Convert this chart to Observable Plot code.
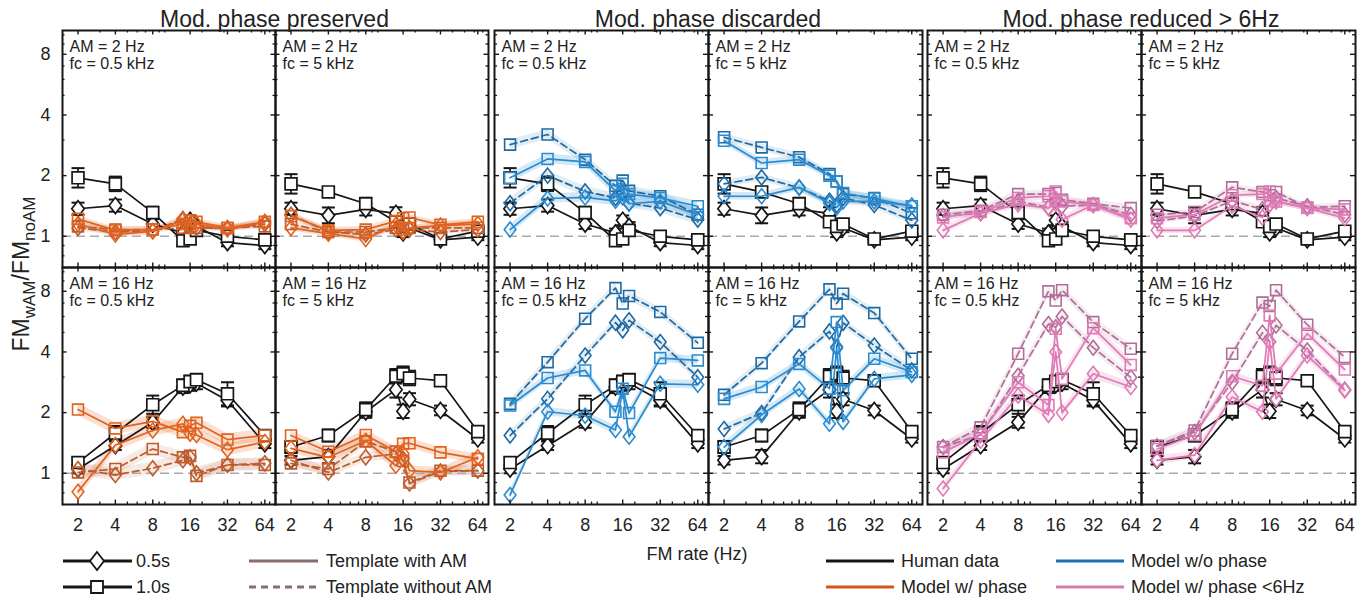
<!DOCTYPE html>
<html>
<head>
<meta charset="utf-8">
<script src="https://cdn.jsdelivr.net/npm/d3@7"></script>
<script src="https://cdn.jsdelivr.net/npm/@observablehq/plot@0.6"></script>
<style>
  body { margin: 0; background: #fff; }
  #chart { position: relative; width: 1362px; height: 598px; font-family: "Liberation Sans", Arial, Helvetica, sans-serif; }
  #chart > svg { position: absolute; top: 0; }
</style>
</head>
<body>
<div id="chart"></div>
<script>
// ---------------------------------------------------------------------------
// Data: FM detection threshold ratio (FM with AM / FM without AM)
// Condition order: [AM 2 Hz, fc 0.5 kHz], [AM 2 Hz, fc 5 kHz], [AM 16 Hz, fc 0.5 kHz], [AM 16 Hz, fc 5 kHz]
// ---------------------------------------------------------------------------
const fmRates = [2, 4, 8, 14, 16, 18, 32, 64];
const conditionAM = ["2", "2", "16", "16"];
const conditionFc = ["0.5", "5", "0.5", "5"];
const amRates = ["2", "16"];
const carriers = ["0.5", "5"];

const groupTitles = ["Mod. phase preserved", "Mod. phase discarded", "Mod. phase reduced > 6Hz"];
const xTicks = [2, 4, 8, 16, 32, 64];
const xMinorTicks = [3, 5, 6, 7, 9, 10, 20, 30, 40, 50, 60, 70];
const yTicks = [1, 2, 4, 8];
const yMinorTicks = [0.7, 0.8, 0.9, 3, 5, 6, 7, 9, 10];

// Human data, 0.5 s and 1.0 s stimuli (mean and error half-width in octaves)
const humanShort = [
  [1.37, 1.42, 1.15, 1.04, 1.20, 1.12, 0.93, 0.90],
  [1.37, 1.27, 1.36, 1.30, 1.04, 1.10, 0.96, 0.99],
  [1.05, 1.37, 1.79, 2.68, 2.75, 2.80, 2.30, 1.40],
  [1.16, 1.21, 2.02, 2.60, 2.03, 2.33, 2.05, 1.48]
];
const humanShortErr = [
  [0.10, 0.10, 0.08, 0.07, 0.08, 0.07, 0.06, 0.06],
  [0.10, 0.13, 0.10, 0.10, 0.07, 0.07, 0.05, 0.05],
  [0.07, 0.07, 0.09, 0.10, 0.10, 0.10, 0.10, 0.07],
  [0.07, 0.11, 0.10, 0.13, 0.11, 0.10, 0.08, 0.06]
];
const humanLong = [
  [1.95, 1.82, 1.31, 0.95, 0.97, 1.07, 1.00, 0.96],
  [1.82, 1.66, 1.45, 1.18, 1.12, 1.15, 0.97, 1.06],
  [1.13, 1.58, 2.19, 2.73, 2.85, 2.91, 2.48, 1.54],
  [1.35, 1.54, 2.07, 3.03, 3.12, 2.97, 2.88, 1.61]
];
const humanLongErr = [
  [0.16, 0.12, 0.10, 0.08, 0.08, 0.08, 0.07, 0.05],
  [0.16, 0.08, 0.10, 0.08, 0.08, 0.08, 0.05, 0.05],
  [0.08, 0.12, 0.15, 0.10, 0.10, 0.10, 0.19, 0.07],
  [0.10, 0.10, 0.12, 0.12, 0.12, 0.12, 0.05, 0.07]
];

// Model with modulation phase preserved
const phaseWithShort = [
  [1.15, 1.02, 1.06, 1.20, 1.12, 1.15, 1.08, 1.18],
  [1.10, 1.03, 0.97, 1.14, 1.06, 1.10, 1.13, 1.15],
  [0.81, 1.38, 1.63, 1.76, 1.57, 1.55, 1.31, 1.43],
  [1.33, 1.20, 1.45, 1.09, 1.25, 1.03, 1.01, 1.20]
];
const phaseWithLong = [
  [1.22, 1.07, 1.08, 1.15, 1.20, 1.18, 1.10, 1.18],
  [1.26, 1.07, 1.08, 1.19, 1.23, 1.24, 1.14, 1.18],
  [2.07, 1.67, 1.81, 1.60, 1.72, 1.78, 1.47, 1.54],
  [1.54, 1.28, 1.55, 1.28, 1.40, 1.41, 1.27, 1.18]
];
const phaseWithoutShort = [
  [1.10, 1.05, 1.06, 1.22, 1.15, 1.10, 1.10, 1.15],
  [1.28, 1.05, 1.02, 1.08, 1.05, 1.08, 1.05, 1.08],
  [1.05, 0.98, 1.06, 1.16, 1.20, 1.00, 1.10, 1.12],
  [1.16, 1.01, 1.20, 1.25, 1.18, 0.89, 1.02, 1.03]
];
const phaseWithoutLong = [
  [1.12, 1.08, 1.08, 1.10, 1.12, 1.10, 1.10, 1.12],
  [1.15, 1.05, 1.05, 1.10, 1.08, 1.10, 1.10, 1.10],
  [1.01, 1.05, 1.32, 1.20, 1.22, 0.97, 1.10, 1.10],
  [1.12, 1.05, 1.44, 1.28, 1.15, 0.90, 1.03, 1.03]
];
const phaseBand = [0.05, 0.05, 0.10, 0.08];

// Model with modulation phase discarded
const noPhaseWithShort = [
  [1.08, 1.54, 1.56, 1.50, 1.56, 1.45, 1.49, 1.28],
  [1.58, 1.58, 1.75, 1.46, 1.39, 1.49, 1.49, 1.42],
  [0.78, 2.02, 1.93, 1.64, 2.58, 1.52, 2.78, 2.75],
  [1.35, 1.95, 2.62, 1.76, 4.18, 1.80, 2.94, 3.08]
];
const noPhaseWithLong = [
  [1.95, 2.42, 2.34, 1.68, 1.82, 1.62, 1.55, 1.41],
  [2.98, 2.31, 2.40, 2.00, 1.87, 1.64, 1.54, 1.41],
  [2.17, 2.97, 3.24, 2.02, 2.63, 1.99, 3.73, 3.63],
  [2.34, 2.68, 3.49, 2.63, 5.63, 2.58, 3.70, 3.18]
];
const noPhaseWithoutShort = [
  [1.46, 2.00, 1.67, 1.55, 1.64, 1.46, 1.38, 1.21],
  [1.82, 1.96, 1.74, 1.50, 1.43, 1.55, 1.43, 1.20],
  [1.54, 2.34, 3.84, 5.59, 5.12, 5.74, 4.48, 3.00],
  [1.66, 1.99, 3.77, 5.06, 4.23, 5.58, 4.31, 3.24]
];
const noPhaseWithoutLong = [
  [2.85, 3.20, 2.40, 1.78, 1.89, 1.68, 1.58, 1.28],
  [3.10, 2.76, 2.47, 2.04, 1.87, 1.62, 1.55, 1.30],
  [2.21, 3.56, 5.85, 8.30, 6.96, 7.58, 6.32, 4.44],
  [2.45, 3.52, 5.67, 8.18, 6.96, 7.78, 6.24, 3.70]
];
const noPhaseBand = [0.08, 0.06, 0.07, 0.07];

// Model with modulation phase reduced above 6 Hz
const lowPhaseWithShort = [
  [1.07, 1.30, 1.44, 1.38, 1.45, 1.21, 1.43, 1.21],
  [1.07, 1.07, 1.42, 1.24, 1.44, 1.49, 1.38, 1.23],
  [0.84, 1.45, 2.43, 1.95, 4.00, 2.00, 3.12, 2.68],
  [1.16, 1.23, 2.39, 2.02, 4.48, 2.34, 3.84, 2.58]
];
const lowPhaseWithLong = [
  [1.24, 1.32, 1.55, 1.58, 1.67, 1.49, 1.43, 1.23],
  [1.23, 1.28, 1.60, 1.62, 1.67, 1.49, 1.38, 1.36],
  [1.27, 1.57, 2.83, 2.18, 5.21, 2.94, 5.25, 3.45],
  [1.32, 1.55, 3.03, 2.72, 6.07, 3.12, 4.93, 3.27]
];
const lowPhaseWithoutShort = [
  [1.26, 1.30, 1.49, 1.39, 1.50, 1.41, 1.43, 1.28],
  [1.19, 1.26, 1.50, 1.36, 1.44, 1.55, 1.41, 1.28],
  [1.35, 1.55, 3.05, 5.50, 5.30, 6.00, 4.20, 2.99],
  [1.36, 1.60, 2.83, 4.98, 4.50, 5.42, 4.07, 2.60]
];
const lowPhaseWithoutLong = [
  [1.28, 1.34, 1.62, 1.62, 1.64, 1.52, 1.45, 1.38],
  [1.28, 1.32, 1.75, 1.66, 1.60, 1.66, 1.39, 1.41],
  [1.35, 1.69, 3.92, 8.00, 7.20, 8.10, 5.63, 4.15],
  [1.37, 1.63, 3.92, 7.03, 6.76, 8.10, 5.46, 3.77]
];
const lowPhaseBand = [0.06, 0.05, 0.08, 0.07];

// ---------------------------------------------------------------------------
// Tidy rows
// ---------------------------------------------------------------------------
function toRows(byCondition, spread, duration, template) {
  const rows = [];
  byCondition.forEach((values, ci) => {
    const s = spread[ci];
    values.forEach((v, i) => {
      const w = Array.isArray(s) ? s[i] : s;
      rows.push({
        am: conditionAM[ci], fc: conditionFc[ci], rate: fmRates[i], value: v,
        lo: v * 2 ** -w, hi: v * 2 ** w, duration, template, key: `${template}-${duration}`
      });
    });
  });
  return rows;
}

const humanRows = [
  ...toRows(humanShort, humanShortErr, "0.5s", "human"),
  ...toRows(humanLong, humanLongErr, "1.0s", "human")
];

function modelRows(withShort, withLong, withoutShort, withoutLong, band) {
  return [
    ...toRows(withShort, band, "0.5s", "with"),
    ...toRows(withLong, band, "1.0s", "with"),
    ...toRows(withoutShort, band, "0.5s", "without"),
    ...toRows(withoutLong, band, "1.0s", "without")
  ];
}

const models = [
  modelRows(phaseWithShort, phaseWithLong, phaseWithoutShort, phaseWithoutLong, phaseBand),
  modelRows(noPhaseWithShort, noPhaseWithLong, noPhaseWithoutShort, noPhaseWithoutLong, noPhaseBand),
  modelRows(lowPhaseWithShort, lowPhaseWithLong, lowPhaseWithoutShort, lowPhaseWithoutLong, lowPhaseBand)
];

const panelLabels = [];
for (const am of amRates) for (const fc of carriers) panelLabels.push({am, fc, text: `AM = ${am} Hz\nfc = ${fc} kHz`});

// Tick labels: x below the bottom row of panels, y left of the first column
const xTickLabels = carriers.flatMap(fc => xTicks.map(v => ({fc, am: amRates[1], v})));
const yTickLabels = amRates.flatMap(am => yTicks.map(v => ({fc: carriers[0], am, v})));

// ---------------------------------------------------------------------------
// Styling
// ---------------------------------------------------------------------------
const palettes = [
  {with: "#e2621f", without: "#bd5b2c"},
  {with: "#2a8bd0", without: "#1f69a3"},
  {with: "#e07ab6", without: "#b06e97"}
];

// Marker shapes (custom d3 symbols)
const diamondSymbol = {draw(ctx, size) {
  const r = Math.sqrt(size / Math.PI), w = r * 0.78;
  ctx.moveTo(0, -r); ctx.lineTo(w, 0); ctx.lineTo(0, r); ctx.lineTo(-w, 0); ctx.closePath();
}};
const squareSymbol = {draw(ctx, size) {
  const r = Math.sqrt(size / Math.PI) * 0.78;
  ctx.moveTo(-r, -r); ctx.lineTo(r, -r); ctx.lineTo(r, r); ctx.lineTo(-r, r); ctx.closePath();
}};
const capSymbol = {draw(ctx, size) {
  const r = Math.sqrt(size / Math.PI);
  ctx.moveTo(-r, 0); ctx.lineTo(r, 0);
}};

const layout = [
  {left: 0, marginLeft: 61, frameWidth: 427, showY: true},
  {left: 491, marginLeft: 3, frameWidth: 428, showY: false},
  {left: 924, marginLeft: 3, frameWidth: 428, showY: false}
];
const marginTop = 29, frameHeight = 475, marginBottom = 40, marginRight = 3;
const ink = "#161616";

function groupPlot(gi) {
  const {marginLeft, frameWidth, showY} = layout[gi];
  const rows = models[gi];
  const pal = palettes[gi];
  const fw = frameWidth / 2, fh = frameHeight / 2;
  const facet = {fx: "fc", fy: "am"};
  const sel = (t, d) => rows.filter(r => r.template === t && (d == null || r.duration === d));
  const human = humanRows;

  const marks = [
    // variability bands of the model
    Plot.areaY(sel("with"), {...facet, x: "rate", y1: "lo", y2: "hi", z: "key", fill: pal.with, fillOpacity: 0.2, clip: true}),
    Plot.areaY(sel("without"), {...facet, x: "rate", y1: "lo", y2: "hi", z: "key", fill: pal.without, fillOpacity: 0.13, clip: true}),
    // no-effect reference
    Plot.ruleY([1], {stroke: "#a9a9a9", strokeWidth: 1.5, strokeDasharray: "9,5"}),
    // human data with error bars
    Plot.ruleX(human, {...facet, x: "rate", y1: "lo", y2: "hi", stroke: ink, strokeWidth: 1.7}),
    Plot.dot(human, {...facet, x: "rate", y: "lo", symbol: capSymbol, r: 6.5, stroke: ink, strokeWidth: 2}),
    Plot.dot(human, {...facet, x: "rate", y: "hi", symbol: capSymbol, r: 6.5, stroke: ink, strokeWidth: 2}),
    Plot.line(human, {...facet, x: "rate", y: "value", z: "duration", stroke: ink, strokeWidth: 1.7}),
    Plot.dot(human.filter(r => r.duration === "0.5s"), {...facet, x: "rate", y: "value", symbol: diamondSymbol, r: 8, fill: "white", stroke: ink, strokeWidth: 1.7}),
    Plot.dot(human.filter(r => r.duration === "1.0s"), {...facet, x: "rate", y: "value", symbol: squareSymbol, r: 7.6, fill: "white", stroke: ink, strokeWidth: 1.7}),
    // model: template without AM (dashed), template with AM (solid)
    Plot.line(sel("without"), {...facet, x: "rate", y: "value", z: "key", stroke: pal.without, strokeWidth: 1.7, strokeDasharray: "7,4"}),
    Plot.dot(sel("without", "0.5s"), {...facet, x: "rate", y: "value", symbol: diamondSymbol, r: 7.5, fill: "none", stroke: pal.without, strokeWidth: 1.6}),
    Plot.dot(sel("without", "1.0s"), {...facet, x: "rate", y: "value", symbol: squareSymbol, r: 7, fill: "none", stroke: pal.without, strokeWidth: 1.6}),
    Plot.line(sel("with"), {...facet, x: "rate", y: "value", z: "key", stroke: pal.with, strokeWidth: 1.7}),
    Plot.dot(sel("with", "0.5s"), {...facet, x: "rate", y: "value", symbol: diamondSymbol, r: 7.5, fill: "none", stroke: pal.with, strokeWidth: 1.6}),
    Plot.dot(sel("with", "1.0s"), {...facet, x: "rate", y: "value", symbol: squareSymbol, r: 7, fill: "none", stroke: pal.with, strokeWidth: 1.6}),
    // inward ticks on all four sides of each panel
    Plot.tickX(xMinorTicks, {x: d => d, insetTop: fh - 3, stroke: ink, strokeWidth: 1.3}),
    Plot.tickX(xMinorTicks, {x: d => d, insetBottom: fh - 3, stroke: ink, strokeWidth: 1.3}),
    Plot.tickX(xTicks, {x: d => d, insetTop: fh - 5, stroke: ink, strokeWidth: 1.4}),
    Plot.tickX(xTicks, {x: d => d, insetBottom: fh - 5, stroke: ink, strokeWidth: 1.4}),
    Plot.tickY(yMinorTicks, {y: d => d, insetRight: fw - 3, stroke: ink, strokeWidth: 1.3}),
    Plot.tickY(yMinorTicks, {y: d => d, insetLeft: fw - 3, stroke: ink, strokeWidth: 1.3}),
    Plot.tickY(yTicks, {y: d => d, insetRight: fw - 5, stroke: ink, strokeWidth: 1.4}),
    Plot.tickY(yTicks, {y: d => d, insetLeft: fw - 5, stroke: ink, strokeWidth: 1.4}),
    Plot.frame({stroke: ink, strokeWidth: 2}),
    Plot.text(panelLabels, {...facet, text: "text", frameAnchor: "top-left", textAnchor: "start", lineAnchor: "top",
      dx: 7, dy: 9, fontSize: 16, lineHeight: 1.07, fill: "#222"}),
    // tick labels
    Plot.text(xTickLabels, {...facet, x: "v", text: d => `${d.v}`, frameAnchor: "bottom", lineAnchor: "top", dy: 14, fontSize: 18, fill: "#222"})
  ];
  if (showY) {
    marks.push(Plot.text(yTickLabels, {...facet, y: "v", text: d => `${d.v}`, frameAnchor: "left", textAnchor: "end", dx: -12, fontSize: 18, fill: "#222"}));
  }

  const svg = Plot.plot({
    width: marginLeft + frameWidth + marginRight,
    height: marginTop + frameHeight + marginBottom,
    marginTop, marginBottom, marginLeft, marginRight,
    x: {type: "log", domain: [1.5, 78], axis: null},
    y: {type: "log", domain: [0.7, 10.5], axis: null},
    fx: {domain: carriers, padding: 0, axis: null},
    fy: {domain: amRates, padding: 0, axis: null},
    style: {fontFamily: '"Liberation Sans", Arial, Helvetica, sans-serif', fontSize: "18px", color: "#222", background: "transparent", overflow: "visible"},
    marks
  });
  svg.style.left = `${layout[gi].left}px`;
  return svg;
}

const chart = document.getElementById("chart");
for (let gi = 0; gi < 3; gi++) chart.appendChild(groupPlot(gi));

// ---------------------------------------------------------------------------
// Titles, axis labels and legend
// ---------------------------------------------------------------------------
const legendDurations = [
  {label: "0.5s", shape: "diamond"},
  {label: "1.0s", shape: "square"}
];
const legendTemplates = [
  {label: "Template with AM", dash: null},
  {label: "Template without AM", dash: "7,5"}
];
const legendSources = [
  {label: "Human data", color: "#161616"},
  {label: "Model w/ phase", color: "#d4561c"},
  {label: "Model w/o phase", color: "#1f6fb2"},
  {label: "Model w/ phase <6Hz", color: "#d47db3"}
];

const over = d3.select(chart).append("svg")
  .attr("width", 1362).attr("height", 598)
  .style("position", "absolute").style("left", "0px").style("top", "0px")
  .style("font-family", '"Liberation Sans", Arial, Helvetica, sans-serif')
  .style("pointer-events", "none");

groupTitles.forEach((t, i) => {
  const cx = layout[i].left + layout[i].marginLeft + layout[i].frameWidth / 2;
  over.append("text").attr("x", cx).attr("y", 27).attr("text-anchor", "middle")
    .attr("font-size", 23).attr("fill", "#222").text(t);
});

// y label with subscripts
const yl = over.append("text").attr("transform", "translate(29,274) rotate(-90)")
  .attr("text-anchor", "middle").attr("font-size", 23).attr("fill", "#222");
yl.append("tspan").text("FM");
yl.append("tspan").attr("dy", 6).attr("font-size", 17).text("wAM");
yl.append("tspan").attr("dy", -6).text("/FM");
yl.append("tspan").attr("dy", 6).attr("font-size", 17).text("noAM");

over.append("text").attr("x", 697).attr("y", 560).attr("text-anchor", "middle")
  .attr("font-size", 18).attr("fill", "#222").text("FM rate (Hz)");

const rowY = [561, 587];
legendDurations.forEach((d, i) => {
  const y = rowY[i];
  over.append("line").attr("x1", 63).attr("x2", 132).attr("y1", y).attr("y2", y)
    .attr("stroke", "#161616").attr("stroke-width", 3);
  const path = d.shape === "diamond"
    ? `M97,${y - 9}L104,${y}L97,${y + 9}L90,${y}Z`
    : `M91,${y - 6}H103V${y + 6}H91Z`;
  over.append("path").attr("d", path).attr("fill", "white").attr("stroke", "#161616").attr("stroke-width", 1.8);
  over.append("text").attr("x", 136).attr("y", y + 6).attr("font-size", 18).attr("fill", "#222").text(d.label);
});
legendTemplates.forEach((d, i) => {
  const y = rowY[i];
  over.append("line").attr("x1", 249).attr("x2", 318).attr("y1", y).attr("y2", y)
    .attr("stroke", "#8a6c6c").attr("stroke-width", 3).attr("stroke-dasharray", d.dash);
  over.append("text").attr("x", 326).attr("y", y + 6).attr("font-size", 18).attr("fill", "#222").text(d.label);
});
legendSources.forEach((d, i) => {
  const col = Math.floor(i / 2), y = rowY[i % 2];
  const x0 = col === 0 ? 826 : 1056;
  over.append("line").attr("x1", x0).attr("x2", x0 + 68).attr("y1", y).attr("y2", y)
    .attr("stroke", d.color).attr("stroke-width", 3);
  over.append("text").attr("x", x0 + 75).attr("y", y + 6).attr("font-size", 18).attr("fill", "#222").text(d.label);
});
</script>
</body>
</html>
